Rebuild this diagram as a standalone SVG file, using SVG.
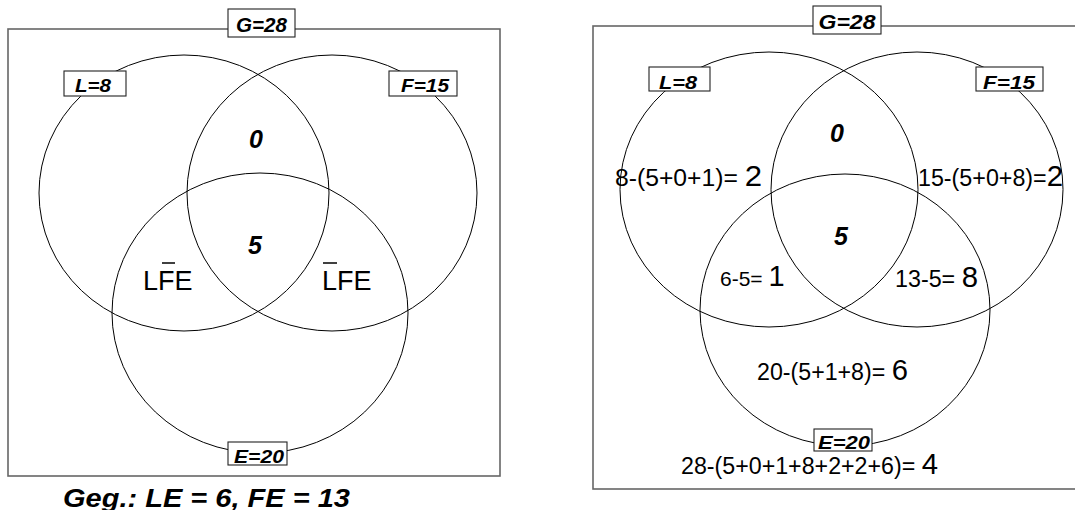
<svg xmlns="http://www.w3.org/2000/svg" width="1075" height="510" viewBox="0 0 1075 510">
<style>
.frame{fill:none;stroke:#666;stroke-width:1.6}
.set{fill:none;stroke:#000;stroke-width:1}
.lbox{fill:#fff;stroke:#222;stroke-width:1.1}
.lab{font-family:"Liberation Sans",Arial,sans-serif;font-weight:bold;font-style:italic;fill:#000;text-anchor:middle}
.big{font-family:"Liberation Sans",Arial,sans-serif;font-weight:bold;font-style:italic;font-size:25px;fill:#000;text-anchor:middle}
.reg{font-family:"Liberation Sans",Arial,sans-serif;font-size:23px;fill:#000}
.sym{font-family:"Liberation Sans",Arial,sans-serif;font-size:27px;fill:#000}
.dig{font-size:29px}
.bar{stroke:#000;stroke-width:1.5}
</style>
<rect width="1075" height="510" fill="#fff"/>
<g id="left-diagram">
  <rect id="frame-left" class="frame" x="8" y="29" width="492" height="447"/>
  <g id="set-L-left"><ellipse class="set" cx="184" cy="193" rx="145" ry="138"/></g>
  <g id="set-F-left"><ellipse class="set" cx="332" cy="193" rx="145" ry="138"/></g>
  <g id="set-E-left"><ellipse class="set" cx="260" cy="313" rx="148" ry="140"/></g>
  <g id="label-G-left"><rect class="lbox" x="228" y="9" width="67" height="28"/><text class="lab" x="261.5" y="32" style="font-size:21px" textLength="51" lengthAdjust="spacingAndGlyphs">G=28</text></g>
  <g id="label-L-left"><rect class="lbox" x="64" y="71" width="62" height="25"/><text class="lab" x="93" y="92" style="font-size:19px" textLength="36" lengthAdjust="spacingAndGlyphs">L=8</text></g>
  <g id="label-F-left"><rect class="lbox" x="389" y="71" width="68" height="25"/><text class="lab" x="425" y="92" style="font-size:19px" textLength="48" lengthAdjust="spacingAndGlyphs">F=15</text></g>
  <g id="label-E-left"><rect class="lbox" x="228" y="442" width="59" height="23"/><text class="lab" x="259" y="463" style="font-size:18px" textLength="50" lengthAdjust="spacingAndGlyphs">E=20</text></g>
  <g id="region-LF-left"><text class="big" x="256" y="148">0</text></g>
  <g id="region-LFE-left"><text class="big" x="255" y="254">5</text></g>
  <g id="region-LnFE-left"><text class="sym" x="143" y="290">LFE</text><line class="bar" x1="162" y1="263" x2="175" y2="263"/></g>
  <g id="region-nLFE-left"><text class="sym" x="322" y="290">LFE</text><line class="bar" x1="323" y1="263" x2="337" y2="263"/></g>
  <g id="given"><text class="lab" x="63" y="507" style="font-size:25px;text-anchor:start" textLength="287" lengthAdjust="spacingAndGlyphs">Geg.: LE = 6, FE = 13</text></g>
</g>
<g id="right-diagram">
  <rect id="frame-right" class="frame" x="593" y="26" width="500" height="463"/>
  <g id="set-L-right"><ellipse class="set" cx="769" cy="189.5" rx="149" ry="137.5"/></g>
  <g id="set-F-right"><ellipse class="set" cx="917" cy="189.5" rx="146" ry="137.5"/></g>
  <g id="set-E-right"><ellipse class="set" cx="845" cy="310" rx="145" ry="136"/></g>
  <g id="label-G-right"><rect class="lbox" x="813" y="6" width="68" height="28"/><text class="lab" x="847" y="29" style="font-size:21px" textLength="57" lengthAdjust="spacingAndGlyphs">G=28</text></g>
  <g id="label-L-right"><rect class="lbox" x="649" y="67" width="61" height="24"/><text class="lab" x="678" y="89" style="font-size:19px" textLength="38" lengthAdjust="spacingAndGlyphs">L=8</text></g>
  <g id="label-F-right"><rect class="lbox" x="976" y="67" width="67" height="24"/><text class="lab" x="1009" y="89" style="font-size:19px" textLength="52" lengthAdjust="spacingAndGlyphs">F=15</text></g>
  <g id="label-E-right"><rect class="lbox" x="814" y="429" width="58" height="22"/><text class="lab" x="844" y="449" style="font-size:19px" textLength="52" lengthAdjust="spacingAndGlyphs">E=20</text></g>
  <g id="region-LF-right"><text class="big" x="837" y="142">0</text></g>
  <g id="region-LFE-right"><text class="big" x="841" y="245">5</text></g>
  <g id="region-L-right"><text class="reg" x="615" y="186" textLength="147" lengthAdjust="spacingAndGlyphs">8-(5+0+1)= <tspan class="dig">2</tspan></text></g>
  <g id="region-F-right"><text class="reg" x="918" y="186" textLength="145" lengthAdjust="spacingAndGlyphs">15-(5+0+8)=<tspan class="dig">2</tspan></text></g>
  <g id="region-LE-right"><text class="reg" x="720" y="286" style="font-size:21px">6-5= <tspan class="dig">1</tspan></text></g>
  <g id="region-FE-right"><text class="reg" x="895" y="287" textLength="83" lengthAdjust="spacingAndGlyphs">13-5= <tspan class="dig">8</tspan></text></g>
  <g id="region-E-right"><text class="reg" x="757" y="380" textLength="151" lengthAdjust="spacingAndGlyphs">20-(5+1+8)= <tspan class="dig">6</tspan></text></g>
  <g id="region-outside-right"><text class="reg" x="681" y="474" textLength="257" lengthAdjust="spacingAndGlyphs">28-(5+0+1+8+2+2+6)= <tspan class="dig">4</tspan></text></g>
</g>
</svg>
